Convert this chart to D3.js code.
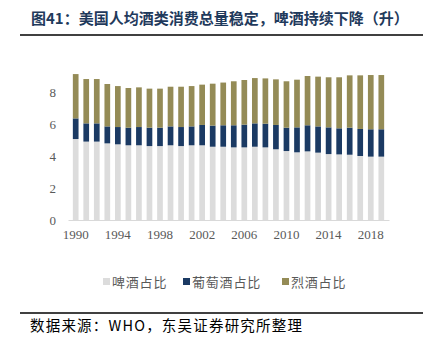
<!DOCTYPE html>
<html>
<head>
<meta charset="utf-8">
<script src="https://cdn.jsdelivr.net/npm/d3@7"></script>
<style>
  body { margin: 0; background: #fff; }
  svg { display: block; }
</style>
</head>
<body>
<svg id="chart" width="431" height="349"></svg>
<script>
const years = d3.range(1990, 2020);
// cumulative tops (beer, beer+wine, total)
const beer = [5.06, 4.9, 4.9, 4.79, 4.73, 4.67, 4.67, 4.62, 4.62, 4.67,
              4.62, 4.67, 4.67, 4.58, 4.58, 4.54, 4.54, 4.58, 4.54, 4.42,
              4.31, 4.23, 4.29, 4.21, 4.12, 4.1, 4.08, 4.0, 3.96, 3.96];
const wineTop = [6.35, 6.04, 6.04, 5.85, 5.81, 5.77, 5.81, 5.77, 5.77, 5.85,
                 5.81, 5.85, 5.94, 5.9, 5.92, 5.92, 5.96, 6.04, 6.02, 5.94,
                 5.77, 5.79, 5.92, 5.85, 5.79, 5.73, 5.77, 5.69, 5.67, 5.67];
const totalTop = [9.12, 8.81, 8.81, 8.5, 8.37, 8.25, 8.29, 8.21, 8.21, 8.33,
                  8.33, 8.37, 8.46, 8.52, 8.59, 8.67, 8.75, 8.87, 8.85, 8.79,
                  8.67, 8.77, 9.0, 8.96, 8.92, 8.92, 9.04, 9.04, 9.06, 9.06];
const wine = wineTop.map((v, i) => +(v - beer[i]).toFixed(2));
const spirits = totalTop.map((v, i) => +(v - wineTop[i]).toFixed(2));

const seriesNames = ['啤酒占比', '葡萄酒占比', '烈酒占比'];
const colors = ['#dcdcdc', '#1b3a63', '#948b56'];
const yTicks = [0, 2, 4, 6, 8];
const xTickYears = [1990, 1994, 1998, 2002, 2006, 2010, 2014, 2018];

const table = years.map((y, i) => ({ year: y, b: beer[i], w: wine[i], s: spirits[i] }));

const svg = d3.select('#chart');
const serif = '"Liberation Serif", "DejaVu Serif", serif';
const cjk = '"Noto Sans CJK SC", sans-serif';

// title + rules
svg.append('text')
    .attr('x', 31).attr('y', 24)
    .attr('font-family', cjk)
    .attr('font-weight', 'bold')
    .attr('font-size', 15)
    .attr('fill', '#1f3a5c')
    .text('图41：美国人均酒类消费总量稳定，啤酒持续下降（升）');
svg.append('line').attr('x1', 20).attr('x2', 423).attr('y1', 35).attr('y2', 35)
    .attr('stroke', '#000').attr('stroke-width', 1.5);
svg.append('line').attr('x1', 20).attr('x2', 423).attr('y1', 313).attr('y2', 313)
    .attr('stroke', '#000').attr('stroke-width', 1.5);
svg.append('text')
    .attr('x', 30).attr('y', 331)
    .attr('font-family', cjk)
    .attr('font-size', 14.5)
    .attr('letter-spacing', 1.2)
    .attr('fill', '#000')
    .text('数据来源：WHO，东吴证券研究所整理');

const x = d3.scaleBand().domain(years).range([68, 389]).padding(0.46);
const y = d3.scaleLinear().domain([0, 8]).range([220, 92]);

const stack = d3.stack().keys(['b', 'w', 's']);
const layers = stack(table);

svg.append('g')
    .selectAll('g')
    .data(layers)
    .join('g')
    .attr('fill', (d, i) => colors[i])
    .selectAll('rect')
    .data(d => d)
    .join('rect')
    .attr('x', d => x(d.data.year))
    .attr('y', d => y(d[1]))
    .attr('width', x.bandwidth())
    .attr('height', d => y(d[0]) - y(d[1]));

// x axis
const xAxis = svg.append('g')
    .attr('transform', `translate(0,${y(0)})`)
    .call(d3.axisBottom(x).tickValues(xTickYears).tickSize(0).tickPadding(10));
xAxis.select('.domain').attr('stroke', '#d9d9d9');
xAxis.selectAll('text')
    .attr('font-family', serif).attr('font-size', 13).attr('fill', '#595959');

// y axis
const yAxis = svg.append('g')
    .attr('transform', 'translate(56,0)')
    .call(d3.axisLeft(y).tickValues(yTicks).tickSize(0).tickPadding(0));
yAxis.select('.domain').remove();
yAxis.selectAll('text')
    .attr('font-family', serif).attr('font-size', 13).attr('fill', '#595959');

// legend
const legendX = [103, 183, 282];
const legend = svg.append('g')
    .selectAll('g')
    .data(seriesNames)
    .join('g')
    .attr('transform', (d, i) => `translate(${legendX[i]},282)`);
legend.append('rect')
    .attr('x', 0).attr('y', -4)
    .attr('width', 7).attr('height', 7)
    .attr('fill', (d, i) => colors[i]);
legend.append('text')
    .attr('x', 9).attr('y', 5)
    .attr('font-family', cjk)
    .attr('font-size', 13)
    .attr('letter-spacing', 0.8)
    .attr('fill', '#595959')
    .text(d => d);
</script>
</body>
</html>
